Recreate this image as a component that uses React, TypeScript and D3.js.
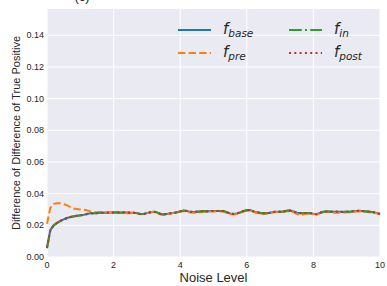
import React from "react";
import * as d3 from "d3";

// noise levels 0..10 step 0.1
const noiseLevels = [
  0.0, 0.1, 0.2, 0.3, 0.4, 0.5, 0.6, 0.7, 0.8, 0.9,
  1.0, 1.1, 1.2, 1.3, 1.4, 1.5, 1.6, 1.7, 1.8, 1.9,
  2.0, 2.1, 2.2, 2.3, 2.4, 2.5, 2.6, 2.7, 2.8, 2.9,
  3.0, 3.1, 3.2, 3.3, 3.4, 3.5, 3.6, 3.7, 3.8, 3.9,
  4.0, 4.1, 4.2, 4.3, 4.4, 4.5, 4.6, 4.7, 4.8, 4.9,
  5.0, 5.1, 5.2, 5.3, 5.4, 5.5, 5.6, 5.7, 5.8, 5.9,
  6.0, 6.1, 6.2, 6.3, 6.4, 6.5, 6.6, 6.7, 6.8, 6.9,
  7.0, 7.1, 7.2, 7.3, 7.4, 7.5, 7.6, 7.7, 7.8, 7.9,
  8.0, 8.1, 8.2, 8.3, 8.4, 8.5, 8.6, 8.7, 8.8, 8.9,
  9.0, 9.1, 9.2, 9.3, 9.4, 9.5, 9.6, 9.7, 9.8, 9.9,
  10.0,
];

const fBase = [
  0.0062, 0.0170, 0.0200, 0.0215, 0.0228, 0.0238, 0.0246, 0.0252, 0.0257, 0.0260,
  0.0263, 0.0266, 0.0272, 0.0276, 0.0277, 0.0277, 0.0279, 0.0280, 0.0280, 0.0281,
  0.0281, 0.0281, 0.0280, 0.0281, 0.0281, 0.0280, 0.0280, 0.0277, 0.0271, 0.0272,
  0.0277, 0.0282, 0.0286, 0.0282, 0.0272, 0.0268, 0.0272, 0.0276, 0.0278, 0.0282,
  0.0288, 0.0293, 0.0290, 0.0285, 0.0284, 0.0286, 0.0288, 0.0290, 0.0288, 0.0290,
  0.0291, 0.0290, 0.0291, 0.0290, 0.0282, 0.0275, 0.0271, 0.0275, 0.0282, 0.0290,
  0.0295, 0.0297, 0.0288, 0.0282, 0.0278, 0.0276, 0.0276, 0.0279, 0.0284, 0.0286,
  0.0285, 0.0287, 0.0292, 0.0293, 0.0287, 0.0280, 0.0277, 0.0278, 0.0277, 0.0277,
  0.0273, 0.0270, 0.0279, 0.0286, 0.0288, 0.0286, 0.0285, 0.0286, 0.0285, 0.0284,
  0.0286, 0.0285, 0.0289, 0.0291, 0.0292, 0.0289, 0.0287, 0.0285, 0.0283, 0.0278,
  0.0271,
];

const fPre = [
  0.0210, 0.0310, 0.0336, 0.0340, 0.0340, 0.0335, 0.0326, 0.0316, 0.0306, 0.0303,
  0.0300, 0.0298, 0.0295, 0.0288, 0.0283, 0.0282, 0.0284, 0.0283, 0.0281, 0.0280,
  0.0280, 0.0279, 0.0278, 0.0277, 0.0276, 0.0276, 0.0278, 0.0276, 0.0270, 0.0271,
  0.0276, 0.0281, 0.0285, 0.0280, 0.0270, 0.0266, 0.0270, 0.0275, 0.0277, 0.0281,
  0.0286, 0.0290, 0.0287, 0.0281, 0.0279, 0.0280, 0.0283, 0.0286, 0.0285, 0.0287,
  0.0288, 0.0287, 0.0288, 0.0287, 0.0279, 0.0271, 0.0268, 0.0272, 0.0279, 0.0287,
  0.0292, 0.0294, 0.0285, 0.0278, 0.0274, 0.0273, 0.0274, 0.0277, 0.0282, 0.0284,
  0.0283, 0.0285, 0.0289, 0.0290, 0.0283, 0.0272, 0.0263, 0.0270, 0.0274, 0.0275,
  0.0271, 0.0268, 0.0276, 0.0283, 0.0285, 0.0282, 0.0280, 0.0280, 0.0280, 0.0280,
  0.0282, 0.0282, 0.0286, 0.0288, 0.0289, 0.0286, 0.0284, 0.0282, 0.0280, 0.0276,
  0.0269,
];

const fIn = [
  0.0055, 0.0168, 0.0199, 0.0214, 0.0227, 0.0237, 0.0245, 0.0251, 0.0256, 0.0259,
  0.0262, 0.0266, 0.0271, 0.0276, 0.0277, 0.0278, 0.0279, 0.0280, 0.0281, 0.0281,
  0.0281, 0.0282, 0.0281, 0.0281, 0.0281, 0.0281, 0.0280, 0.0277, 0.0272, 0.0272,
  0.0277, 0.0282, 0.0287, 0.0282, 0.0273, 0.0268, 0.0272, 0.0276, 0.0279, 0.0283,
  0.0288, 0.0292, 0.0290, 0.0286, 0.0284, 0.0286, 0.0288, 0.0290, 0.0289, 0.0290,
  0.0291, 0.0291, 0.0291, 0.0290, 0.0283, 0.0275, 0.0272, 0.0275, 0.0282, 0.0290,
  0.0295, 0.0296, 0.0288, 0.0283, 0.0279, 0.0277, 0.0276, 0.0279, 0.0284, 0.0286,
  0.0286, 0.0288, 0.0292, 0.0293, 0.0287, 0.0281, 0.0278, 0.0278, 0.0278, 0.0277,
  0.0274, 0.0271, 0.0279, 0.0286, 0.0288, 0.0287, 0.0286, 0.0286, 0.0285, 0.0285,
  0.0286, 0.0286, 0.0289, 0.0291, 0.0292, 0.0290, 0.0287, 0.0285, 0.0283, 0.0279,
  0.0272,
];

const fPost = [
  0.0058, 0.0169, 0.0200, 0.0215, 0.0228, 0.0238, 0.0246, 0.0252, 0.0256, 0.0260,
  0.0263, 0.0267, 0.0272, 0.0276, 0.0277, 0.0277, 0.0279, 0.0280, 0.0280, 0.0281,
  0.0281, 0.0281, 0.0281, 0.0281, 0.0281, 0.0280, 0.0280, 0.0277, 0.0271, 0.0272,
  0.0277, 0.0282, 0.0286, 0.0282, 0.0272, 0.0268, 0.0272, 0.0276, 0.0278, 0.0282,
  0.0288, 0.0293, 0.0290, 0.0285, 0.0284, 0.0286, 0.0288, 0.0290, 0.0288, 0.0290,
  0.0291, 0.0290, 0.0291, 0.0290, 0.0282, 0.0275, 0.0271, 0.0275, 0.0282, 0.0290,
  0.0295, 0.0297, 0.0288, 0.0282, 0.0278, 0.0276, 0.0276, 0.0279, 0.0284, 0.0286,
  0.0285, 0.0287, 0.0292, 0.0293, 0.0287, 0.0280, 0.0277, 0.0278, 0.0277, 0.0277,
  0.0273, 0.0270, 0.0279, 0.0286, 0.0288, 0.0286, 0.0285, 0.0286, 0.0285, 0.0284,
  0.0286, 0.0285, 0.0289, 0.0291, 0.0292, 0.0289, 0.0287, 0.0285, 0.0283, 0.0278,
  0.0271,
];

const xTicks = [0, 2, 4, 6, 8, 10];
const yTicks = [0, 0.02, 0.04, 0.06, 0.08, 0.1, 0.12, 0.14];

const seriesNames = ["base", "pre", "in", "post"];
const seriesData = [fBase, fPre, fIn, fPost];
const seriesColors = ["#1f77b4", "#ff7f0e", "#2ca02c", "#d62728"];
const seriesDash = ["none", "7.4,3.2", "12.8,3.2,2,3.2", "2,3.3"];

const W = 387;
const H = 286;
const margin = { top: 9, right: 7, bottom: 29, left: 47 };

export default function App() {
  const x = d3
    .scaleLinear()
    .domain([0, 10])
    .range([margin.left, W - margin.right]);
  const y = d3
    .scaleLinear()
    .domain([0, 0.1566])
    .range([H - margin.bottom, margin.top]);

  const line = d3
    .line<number>()
    .x((_, i) => x(noiseLevels[i]))
    .y((d) => y(d));

  const tickColor = "#262626";
  const font = "'Liberation Sans', Arial, sans-serif";

  // legend layout: 2 columns, 2 rows
  const legendPos = [
    { lx: 178, ly: 30 },
    { lx: 178, ly: 53 },
    { lx: 289, ly: 30 },
    { lx: 289, ly: 53 },
  ];

  return (
    <svg
      width={W}
      height={H}
      style={{ position: "absolute", left: 0, top: 0, background: "#fff" }}
      fontFamily={font}
    >
      <text x={82} y={1} textAnchor="middle" fontSize={13} fill={tickColor}>
        (c)
      </text>
      <rect
        x={margin.left}
        y={margin.top}
        width={W - margin.left - margin.right}
        height={H - margin.top - margin.bottom}
        fill="#eaeaf2"
      />
      {/* grid */}
      {xTicks.map((t) => (
        <line
          key={"gx" + t}
          x1={x(t)}
          x2={x(t)}
          y1={margin.top}
          y2={H - margin.bottom}
          stroke="#fff"
          strokeWidth={1}
        />
      ))}
      {yTicks.map((t) => (
        <line
          key={"gy" + t}
          x1={margin.left}
          x2={W - margin.right}
          y1={y(t)}
          y2={y(t)}
          stroke="#fff"
          strokeWidth={1}
        />
      ))}
      {/* lines */}
      {seriesData.map((d, i) => (
        <path
          key={seriesNames[i]}
          d={line(d) || ""}
          fill="none"
          stroke={seriesColors[i]}
          strokeWidth={2}
          strokeDasharray={seriesDash[i]}
        />
      ))}
      {/* tick labels */}
      {xTicks.map((t) => (
        <text
          key={"tx" + t}
          x={x(t)}
          y={H - margin.bottom + 11}
          textAnchor="middle"
          fontSize={9}
          fill={tickColor}
        >
          {t}
        </text>
      ))}
      {yTicks.map((t) => (
        <text
          key={"ty" + t}
          x={margin.left - 3}
          y={y(t) + 3}
          textAnchor="end"
          fontSize={9}
          fill={tickColor}
        >
          {t.toFixed(2)}
        </text>
      ))}
      {/* axis labels */}
      <text
        x={(margin.left + W - margin.right) / 2}
        y={282}
        textAnchor="middle"
        fontSize={13}
        fill={tickColor}
      >
        Noise Level
      </text>
      <text
        transform={`translate(20,${(margin.top + H - margin.bottom) / 2}) rotate(-90)`}
        textAnchor="middle"
        fontSize={11}
        fill={tickColor}
      >
        Difference of Difference of True Positive
      </text>
      {/* legend */}
      {seriesNames.map((name, i) => {
        const { lx, ly } = legendPos[i];
        return (
          <g key={"lg" + name}>
            <line
              x1={lx}
              x2={lx + 33}
              y1={ly}
              y2={ly}
              stroke={seriesColors[i]}
              strokeWidth={2}
              strokeDasharray={seriesDash[i]}
            />
            <text
              x={lx + 45}
              y={ly + 4}
              fontFamily="'DejaVu Sans', sans-serif"
              fontStyle="italic"
              fontSize={15}
              fill={tickColor}
            >
              f
              <tspan fontSize={10.5} dy={3}>
                {name}
              </tspan>
            </text>
          </g>
        );
      })}
    </svg>
  );
}
